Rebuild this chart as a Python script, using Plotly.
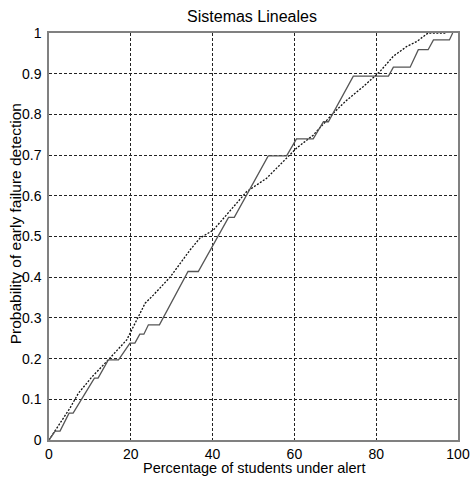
import plotly.graph_objects as go

# Solid (step-like) curve
solid_x = [0, 1.5, 2.7, 4.9, 5.9, 11.1, 12.0, 14.5, 17.0, 19.8, 21.0, 22.2, 23.2, 24.3, 27.0,
           34.0, 36.5, 43.9, 45.3, 53.6, 58.1, 60.5, 64.6, 67.1, 68.3, 74.4, 83.0, 84.2,
           88.3, 90.3, 92.7, 94.0, 97.9, 98.7]
solid_y = [0, 0.022, 0.022, 0.066, 0.066, 0.152, 0.152, 0.197, 0.197, 0.238, 0.238, 0.26, 0.26,
           0.283, 0.283, 0.414, 0.414, 0.547, 0.547, 0.698, 0.698, 0.74, 0.74, 0.782, 0.782,
           0.894, 0.894, 0.916, 0.916, 0.959, 0.959, 0.983, 0.983, 1.0]

# Dotted (smooth) curve
dot_x = [0, 5.1, 7.2, 10.5, 14.5, 19.0, 20.2, 23.5, 25.5, 29.6, 34.5, 36.9, 40.2, 48.3, 53.2,
         58.5, 60.5, 64.6, 69.5, 72.8, 76.8, 80.9, 84.2, 87.5, 89.9, 92.7, 97.2]
dot_y = [0, 0.078, 0.115, 0.155, 0.197, 0.246, 0.27, 0.336, 0.356, 0.4, 0.467, 0.496, 0.516,
         0.61, 0.643, 0.696, 0.717, 0.749, 0.803, 0.835, 0.868, 0.905, 0.943, 0.967, 0.979,
         1.0, 1.0]

x_ticks = [0, 20, 40, 60, 80, 100]
y_ticks = [0, 0.1, 0.2, 0.3, 0.4, 0.5, 0.6, 0.7, 0.8, 0.9, 1]
y_labels = ["0", "0.1", "0.2", "0.3", "0.4", "0.5", "0.6", "0.7", "0.8", "0.9", "1"]

title = "Sistemas Lineales"
x_title = "Percentage of students under alert"
y_title = "Probability of early failure detection"

FONT = "Liberation Sans, Arial, sans-serif"

fig = go.Figure()
fig.add_trace(go.Scatter(x=dot_x, y=dot_y, mode="lines",
                         line=dict(color="#111111", width=1.3, dash="2px,1.5px"),
                         showlegend=False, hoverinfo="skip"))
fig.add_trace(go.Scatter(x=solid_x, y=solid_y, mode="lines",
                         line=dict(color="#555555", width=1.3),
                         showlegend=False, hoverinfo="skip"))

axis_common = dict(
    showgrid=True, gridcolor="#222222", gridwidth=1, griddash="3px,2px",
    zeroline=False, showline=True, linecolor="#808080", linewidth=1.5, mirror=True,
    ticks="", ticklen=0, automargin=False,
    tickfont=dict(family=FONT, size=14, color="#000000"),
)

fig.update_layout(
    width=471, height=479,
    margin=dict(l=49, r=13, t=33, b=39, autoexpand=False),
    paper_bgcolor="#ffffff", plot_bgcolor="#ffffff",
    title=dict(text=title, x=0.535, xanchor="center", y=0.9666, yanchor="middle",
               font=dict(family=FONT, size=16, color="#000000")),
    xaxis=dict(range=[0, 100], tickvals=x_ticks, ticktext=[str(v) for v in x_ticks],
               ticklabelstandoff=0, **axis_common),
    yaxis=dict(range=[0, 1], tickvals=y_ticks, ticktext=y_labels,
               ticklabelstandoff=3, **axis_common),
    annotations=[
        dict(text=x_title, xref="paper", yref="paper", x=0.5, y=-0.0688,
             xanchor="center", yanchor="middle", showarrow=False,
             font=dict(family=FONT, size=14.5, color="#000000")),
        dict(text=y_title, xref="paper", yref="paper", x=-0.083, y=0.53,
             xanchor="center", yanchor="middle", textangle=-90, showarrow=False,
             font=dict(family=FONT, size=15.5, color="#000000")),
    ],
)

# remove the default 8px body margin so the figure sits at the page origin
fig.write_html("out.html", config={"displayModeBar": False},
               post_script="document.body.style.margin='0';")
